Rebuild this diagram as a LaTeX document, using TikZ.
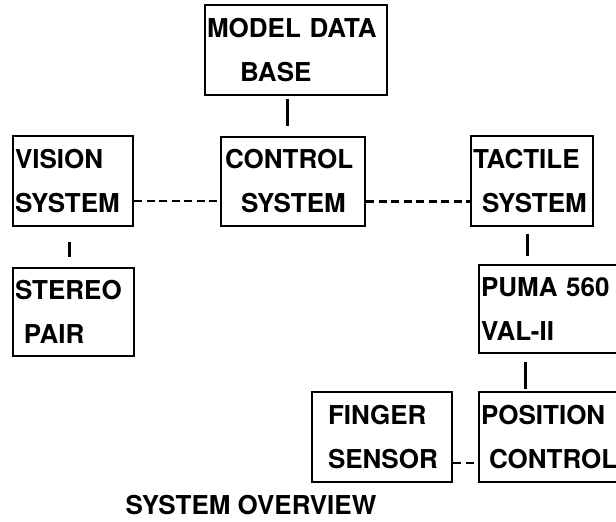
\documentclass[tikz,border=0pt]{standalone}
\usepackage{fontspec}
\setmainfont{TeX Gyre Heros}
\usepackage{tikz}
\usetikzlibrary{calc}

\begin{document}
\begin{tikzpicture}[x=1pt, y=-1pt, every node/.style={font=\fontsize{26pt}{44pt}\selectfont\bfseries, inner ysep=0pt, inner xsep=2pt},
    blockbox/.style={draw, line width=2pt, align=left},
    link/.style={line width=3pt},
    dashlink/.style={line width=2.4pt, dash pattern=on 8pt off 4.5pt}]
    \path[use as bounding box, clip] (0,0) rectangle (616,522);
    \node (model) [blockbox, minimum width=182pt, minimum height=90pt, text width=178pt] at (296,50) {MODEL DATA\\\hspace*{33pt}BASE};
    \node (vision) [blockbox, minimum width=120pt, minimum height=90pt, text width=116pt] at (73,181) {VISION\\SYSTEM};
    \node (control) [blockbox, minimum width=144pt, minimum height=89pt, text width=140pt] at (293,181.5) {\hspace*{2pt}CONTROL\\\hspace*{18pt}SYSTEM};
    \node (tactile) [blockbox, minimum width=122pt, minimum height=90pt, text width=118pt] at (532,181) {TACTILE\\\hspace*{9pt}SYSTEM};
    \node (stereo) [blockbox, minimum width=121pt, minimum height=88pt, text width=117pt] at (73.5,312) {STEREO\\\hspace*{9pt}PAIR};
    \node (puma) [blockbox, minimum width=143pt, minimum height=88pt, text width=139pt] at (550.5,309) {PUMA 560\\VAL-II};
    \node (finger) [blockbox, minimum width=140pt, minimum height=90pt, text width=136pt] at (382,437) {\hspace*{14pt}FINGER\\\hspace*{14pt}SENSOR};
    \node (position) [blockbox, minimum width=143pt, minimum height=90pt, text width=139pt] at (550.5,437) {POSITION\\\hspace*{8pt}CONTROL};
    \node (title) at (251,505) {SYSTEM OVERVIEW};

    \draw[link, shorten <=3pt, shorten >=10pt] ([xshift=-9pt]model.south) -- ([xshift=-9pt]model.south |- control.north);
    \draw[link, shorten <=15pt, shorten >=10pt] ([xshift=-4pt]vision.south) -- ([xshift=-4pt]vision.south |- stereo.north);
    \draw[link, shorten <=7pt, shorten >=8pt] ([xshift=-5pt]tactile.south) -- ([xshift=-5pt]tactile.south |- puma.north);
    \draw[link, shorten <=8pt, shorten >=2pt] ([xshift=-25.5pt]puma.south) -- ([xshift=-25.5pt]puma.south |- position.north);
    \draw[dashlink] ([yshift=-20pt]vision.east) -- ([yshift=-20pt]vision.east -| control.west);
    \draw[dashlink] ([yshift=-20pt]control.east) -- ([yshift=-20pt]control.east -| tactile.west);
    \draw[dashlink] ([yshift=-26pt]finger.east) -- ([yshift=-26pt]finger.east -| position.west);
\end{tikzpicture}
\end{document}
